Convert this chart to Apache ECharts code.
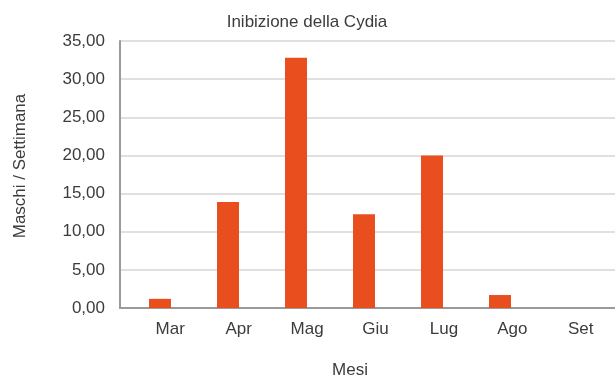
<!DOCTYPE html>
<html>
<head>
<meta charset="utf-8">
<script src="https://cdn.jsdelivr.net/npm/echarts@6/dist/echarts.min.js"></script>
<style>
  html, body { margin: 0; padding: 0; background: #fff; }
  #chart { width: 615px; height: 380px; }
</style>
</head>
<body>
<div id="chart"></div>
<script>
// Monthly catches (males per week)
const months = ['Mar', 'Apr', 'Mag', 'Giu', 'Lug', 'Ago', 'Set'];
const maschi = [1.2, 13.9, 32.8, 12.3, 20.0, 1.7, 0];
const yMin = 0, yMax = 35, yStep = 5;

const FONT = '"Liberation Sans", Arial, Helvetica, sans-serif';
const TEXT = '#3c3c3c';
const BAR = '#E94E1F';

const chart = echarts.init(document.getElementById('chart'), null, { renderer: 'canvas' });

const fmt = v => v.toFixed(2).replace('.', ',');

chart.setOption({
  animation: false,
  backgroundColor: '#ffffff',
  title: {
    text: 'Inibizione della Cydia',
    left: 302,
    textAlign: 'center',
    top: 9,
    textStyle: { fontFamily: FONT, fontSize: 17, fontWeight: 'normal', color: TEXT }
  },
  grid: [
    // frame, gridlines and value labels
    { left: 120, right: 0, top: 41, height: 267 },
    // bars
    { left: 126, width: 476, top: 41, height: 267 },
    // month labels
    { left: 136, width: 485, top: 41, height: 267 }
  ],
  xAxis: [
    {
      gridIndex: 0, type: 'category', data: [''],
      axisLine: { show: true, lineStyle: { color: '#9a9a9a', width: 2 } },
      axisTick: { show: false }, axisLabel: { show: false }, splitLine: { show: false }
    },
    {
      gridIndex: 1, type: 'category', data: months,
      axisLine: { show: false }, axisTick: { show: false }, axisLabel: { show: false }
    },
    {
      gridIndex: 2, type: 'category', data: months,
      axisLine: { show: false }, axisTick: { show: false },
      axisLabel: { margin: 13, fontFamily: FONT, fontSize: 17, color: TEXT }
    }
  ],
  yAxis: [
    {
      gridIndex: 0, type: 'value', min: yMin, max: yMax, interval: yStep,
      axisLine: { show: true, lineStyle: { color: '#9a9a9a', width: 2 } },
      axisTick: { show: false },
      splitLine: { show: true, lineStyle: { color: '#e0e0e0', width: 2 } },
      axisLabel: { margin: 15, fontFamily: FONT, fontSize: 17, color: TEXT, formatter: fmt }
    },
    { gridIndex: 1, type: 'value', min: yMin, max: yMax, show: false },
    { gridIndex: 2, type: 'value', min: yMin, max: yMax, show: false }
  ],
  graphic: [
    {
      type: 'text', x: 20, y: 166, rotation: Math.PI / 2,
      style: {
        text: 'Maschi / Settimana', fill: TEXT,
        font: '17px ' + FONT, textAlign: 'center', textVerticalAlign: 'middle'
      }
    },
    {
      type: 'text', x: 350, y: 370,
      style: {
        text: 'Mesi', fill: TEXT,
        font: '17px ' + FONT, textAlign: 'center', textVerticalAlign: 'middle'
      }
    }
  ],
  series: [
    {
      type: 'bar', xAxisIndex: 1, yAxisIndex: 1,
      data: maschi, barWidth: 22,
      itemStyle: { color: BAR }
    }
  ]
});
</script>
</body>
</html>
